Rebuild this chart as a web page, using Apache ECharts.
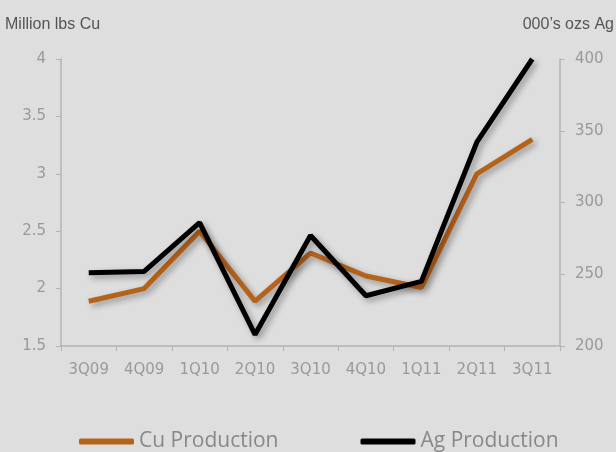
<!DOCTYPE html>
<html>
<head>
<meta charset="utf-8">
<script src="https://cdn.jsdelivr.net/npm/echarts@6/dist/echarts.min.js"></script>
<style>
  html, body { margin: 0; padding: 0; background: #dedede; }
  #main { width: 616px; height: 452px; }
</style>
</head>
<body>
<div id="main"></div>
<script>
// quarters on the x axis
var quarters = ['3Q09', '4Q09', '1Q10', '2Q10', '3Q10', '4Q10', '1Q11', '2Q11', '3Q11'];
// Cu production, million lbs (left axis)
var cuProduction = [1.89, 2.0, 2.5, 1.89, 2.31, 2.11, 2.01, 3.0, 3.3];
// Ag production, 000's ozs (right axis)
var agProduction = [251, 252, 286, 208, 277, 235, 245, 342, 400];

var axisColor = '#b4b4b4';
var labelColor = '#999';
var tickFont = { color: labelColor, fontFamily: 'DejaVu Sans', fontSize: 15 };
var lineShadow = {
    shadowBlur: 6,
    shadowColor: 'rgba(0,0,0,0.35)',
    shadowOffsetX: 3,
    shadowOffsetY: 3
};

var chart = echarts.init(document.getElementById('main'));
var option = {
    backgroundColor: '#dedede',
    animation: false,
    title: [{
        text: 'Million lbs Cu',
        left: 0, top: 12,
        textStyle: { fontFamily: 'Liberation Sans', fontSize: 16, fontWeight: 'normal', color: '#555' }
    }, {
        text: '000\u2019s ozs Ag',
        right: -3, top: 12,
        textStyle: { fontFamily: 'Liberation Sans', fontSize: 16, fontWeight: 'normal', color: '#555' }
    }],
    grid: { left: 61, right: 56, top: 59, bottom: 106 },
    legend: {
        top: 426,
        left: 74,
        itemWidth: 55,
        itemHeight: 6,
        itemGap: 82,
        icon: 'roundRect',
        textStyle: { fontFamily: 'Open Sans', fontSize: 21, color: '#888' },
        data: ['Cu Production', 'Ag Production']
    },
    xAxis: {
        type: 'category',
        data: quarters,
        boundaryGap: true,
        axisLine: { lineStyle: { color: axisColor, width: 1.5 } },
        axisTick: { show: true, length: 5, lineStyle: { color: axisColor } },
        axisLabel: Object.assign({ margin: 17 }, tickFont),
        splitLine: { show: false }
    },
    yAxis: [{
        type: 'value',
        min: 1.5, max: 4, interval: 0.5,
        position: 'left',
        axisLine: { show: true, lineStyle: { color: axisColor, width: 1.5 } },
        axisTick: { show: true, length: 5, lineStyle: { color: axisColor } },
        axisLabel: Object.assign({ margin: 15 }, tickFont),
        splitLine: { show: false }
    }, {
        type: 'value',
        min: 200, max: 400, interval: 50,
        position: 'right',
        axisLine: { show: true, lineStyle: { color: axisColor, width: 1.5 } },
        axisTick: { show: true, length: 5, lineStyle: { color: axisColor } },
        axisLabel: Object.assign({ margin: 15 }, tickFont),
        splitLine: { show: false }
    }],
    series: [{
        name: 'Cu Production',
        type: 'line',
        yAxisIndex: 0,
        data: cuProduction,
        symbol: 'none',
        itemStyle: { color: '#b5621b' },
        lineStyle: Object.assign({ color: '#b5621b', width: 5 }, lineShadow)
    }, {
        name: 'Ag Production',
        type: 'line',
        yAxisIndex: 1,
        data: agProduction,
        symbol: 'none',
        itemStyle: { color: '#000' },
        lineStyle: Object.assign({ color: '#000', width: 5 }, lineShadow)
    }]
};
chart.setOption(option);
window.addEventListener('resize', chart.resize);
</script>
</body>
</html>
